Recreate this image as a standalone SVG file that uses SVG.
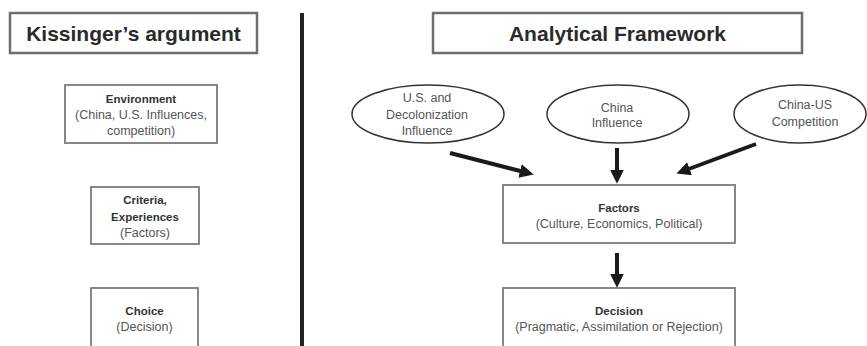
<svg xmlns="http://www.w3.org/2000/svg" width="867" height="346" viewBox="0 0 867 346">
<defs>
<style>
.title{fill:#fff;stroke:#6e6e6e;stroke-width:2.5}
.box{fill:#fff;stroke:#7a7a7a;stroke-width:1.8}
.ell{fill:#fff;stroke:#333;stroke-width:1.5}
.tt{font-family:"Liberation Sans",Arial,sans-serif;font-weight:bold;font-size:21px;fill:#2a2a2a;text-anchor:middle}
.b{font-family:"Liberation Sans",Arial,sans-serif;font-weight:bold;font-size:11.5px;fill:#333;text-anchor:middle}
.r{font-family:"Liberation Sans",Arial,sans-serif;font-size:12.5px;fill:#555;text-anchor:middle}
.e{font-family:"Liberation Sans",Arial,sans-serif;font-size:12.5px;fill:#555;text-anchor:middle}
.conn{stroke:#1a1a1a;stroke-width:4;fill:none;marker-end:url(#ah)}
</style>
<marker id="ah" markerUnits="userSpaceOnUse" markerWidth="14" markerHeight="14" viewBox="0 0 12 12" refX="2" refY="6" orient="auto">
<path d="M0,0 L12,6 L0,12 z" fill="#1a1a1a"/>
</marker>
</defs>
<rect width="867" height="346" fill="#fff"/>
<line x1="302" y1="13" x2="302" y2="346" stroke="#222" stroke-width="4"/>
<g id="kissinger-title">
<rect class="title" x="10" y="13" width="247" height="40"/>
<text class="tt" x="133.5" y="41">Kissinger’s argument</text>
</g>
<g id="environment">
<rect class="box" x="65" y="85" width="152" height="58"/>
<text class="b" x="141" y="103">Environment</text>
<text class="r" x="141" y="119">(China, U.S. Influences,</text>
<text class="r" x="141" y="135">competition)</text>
</g>
<g id="criteria">
<rect class="box" x="91" y="187" width="108" height="57"/>
<text class="b" x="145" y="204">Criteria,</text>
<text class="b" x="145" y="221">Experiences</text>
<text class="r" x="145" y="237">(Factors)</text>
</g>
<g id="choice">
<rect class="box" x="91" y="288" width="107" height="62"/>
<text class="b" x="144.5" y="315">Choice</text>
<text class="r" x="144.5" y="331">(Decision)</text>
</g>
<g id="framework-title">
<rect class="title" x="433" y="13" width="369" height="40"/>
<text class="tt" x="617.5" y="41">Analytical Framework</text>
</g>
<g id="us-decolonization">
<ellipse class="ell" cx="428" cy="114" rx="76" ry="29"/>
<text class="e" x="427" y="102">U.S. and</text>
<text class="e" x="427" y="119">Decolonization</text>
<text class="e" x="427" y="135">Influence</text>
</g>
<g id="china-influence">
<ellipse class="ell" cx="618" cy="114" rx="71" ry="29"/>
<text class="e" x="617" y="112">China</text>
<text class="e" x="617" y="127">Influence</text>
</g>
<g id="china-us">
<ellipse class="ell" cx="800" cy="114" rx="66" ry="29"/>
<text class="e" x="805" y="109">China-US</text>
<text class="e" x="805" y="126">Competition</text>
</g>
<g id="factors">
<rect class="box" x="503" y="185" width="232" height="58"/>
<text class="b" x="619" y="212">Factors</text>
<text class="r" x="619" y="228">(Culture, Economics, Political)</text>
</g>
<g id="decision">
<rect class="box" x="503" y="288" width="232" height="62"/>
<text class="b" x="619" y="315">Decision</text>
<text class="r" x="619" y="331">(Pragmatic, Assimilation or Rejection)</text>
</g>
<g id="connectors">
<line class="conn" x1="450" y1="153" x2="522.3" y2="171.5"/>
<line class="conn" x1="617" y1="148" x2="617" y2="172"/>
<line class="conn" x1="756" y1="144" x2="687.4" y2="169.5"/>
<line class="conn" x1="617" y1="253" x2="617" y2="276"/>
</g>
</svg>
